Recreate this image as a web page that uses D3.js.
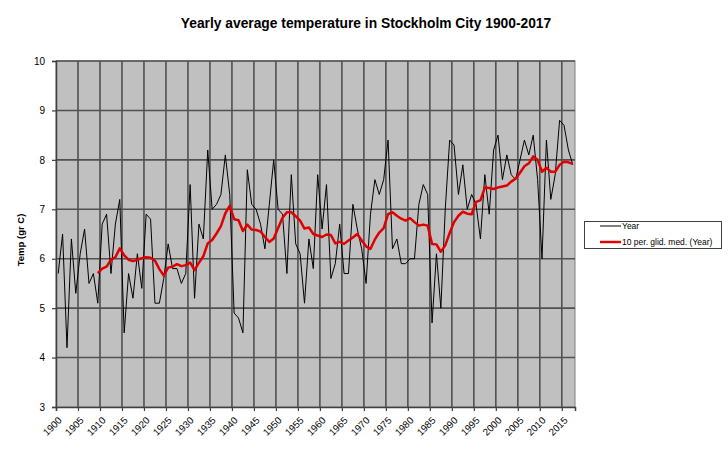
<!DOCTYPE html>
<html>
<head>
<meta charset="utf-8">
<script src="https://cdn.jsdelivr.net/npm/d3@7"></script>
<style>
  html, body { margin: 0; padding: 0; background: #fff; }
  svg { display: block; font-family: "Liberation Sans", Arial, sans-serif; }
</style>
</head>
<body>
<svg id="chart" width="728" height="453"></svg>
<script>
const firstYear = 1900;
const yearValues = [
  5.7, 6.5, 4.2, 6.4, 5.3, 6.1, 6.6, 5.5, 5.7, 5.1,
  6.7, 6.9, 5.7, 6.7, 7.2, 4.5, 5.7, 5.2, 6.1, 5.4,
  6.9, 6.8, 5.1, 5.1, 5.6, 6.3, 5.8, 5.8, 5.5, 5.7,
  7.5, 5.2, 6.7, 6.4, 8.2, 7.0, 7.1, 7.3, 8.1, 7.3,
  4.9, 4.8, 4.5, 7.8, 7.1, 7.0, 6.7, 6.2, 7.1, 8.0,
  7.0, 6.9, 5.7, 7.7, 6.3, 6.1, 5.1, 6.4, 5.8, 7.7,
  6.6, 7.5, 5.6, 5.9, 6.7, 5.7, 5.7, 7.1, 6.6, 6.2,
  5.5, 6.9, 7.6, 7.3, 7.6, 8.4, 6.2, 6.4, 5.9, 5.9,
  6.0, 6.0, 7.1, 7.5, 7.3, 4.7, 6.1, 5.0, 7.0, 8.4,
  8.3, 7.3, 7.9, 7.0, 7.3, 7.1, 6.4, 7.7, 6.9, 8.2,
  8.5, 7.6, 8.1, 7.7, 7.6, 8.0, 8.4, 8.1, 8.5, 7.6,
  6.0, 8.4, 7.2, 7.7, 8.8, 8.7, 8.2, 7.9
];
const maFirstYear = 1909;
const movingAvgValues = [
  5.71,
  5.80, 5.84, 5.98, 6.03, 6.21, 6.07, 5.98, 5.95, 5.98, 6.01,
  6.03, 6.02, 5.96, 5.79, 5.66, 5.82, 5.84, 5.89, 5.85, 5.87,
  5.92, 5.77, 5.92, 6.05, 6.31, 6.38, 6.51, 6.66, 6.92, 7.07,
  6.80, 6.78, 6.56, 6.69, 6.59, 6.58, 6.55, 6.44, 6.34, 6.41,
  6.62, 6.83, 6.94, 6.94, 6.86, 6.77, 6.61, 6.63, 6.50, 6.47,
  6.44, 6.49, 6.48, 6.31, 6.34, 6.30, 6.37, 6.43, 6.50, 6.37,
  6.25, 6.20, 6.39, 6.53, 6.62, 6.90, 6.94, 6.87, 6.81, 6.77,
  6.82, 6.74, 6.67, 6.69, 6.67, 6.30, 6.29, 6.14, 6.27, 6.52,
  6.74, 6.87, 6.95, 6.91, 6.90, 7.15, 7.18, 7.44, 7.43, 7.41,
  7.44, 7.46, 7.48, 7.56, 7.62, 7.74, 7.87, 7.93, 8.07, 8.00,
  7.76, 7.84, 7.76, 7.76, 7.90, 7.96, 7.95, 7.92
];
const xTickYears = d3.range(1900, 2016, 5);
const yTickValues = [3, 4, 5, 6, 7, 8, 9, 10];
const titleText = "Yearly average temperature in Stockholm City 1900-2017";
const yAxisTitle = "Temp (gr C)";
const seriesNames = ["Year", "10 per. glid. med. (Year)"];

const yearSeries = yearValues.map((v, i) => ({ year: firstYear + i, value: v }));
const maSeries = movingAvgValues.map((v, i) => ({ year: maFirstYear + i, value: v }));

const svg = d3.select("#chart");
const plot = { left: 56, right: 575, top: 61, bottom: 407 };

const x = d3.scaleLinear().domain([1900, 2018]).range([plot.left, plot.right]);
const y = d3.scaleLinear().domain([3, 10]).range([plot.bottom, plot.top]);
const xc = yr => x(yr + 0.5);

// title
svg.append("text")
  .attr("x", 366).attr("y", 28)
  .attr("text-anchor", "middle")
  .attr("font-weight", "bold").attr("font-size", 13.8)
  .attr("fill", "#000")
  .text(titleText);

// plot background
svg.append("rect")
  .attr("x", plot.left).attr("y", plot.top)
  .attr("width", plot.right - plot.left).attr("height", plot.bottom - plot.top)
  .attr("fill", "#c0c0c0").attr("stroke", "#808080").attr("stroke-width", 1);

// gridlines
const grid = svg.append("g").attr("stroke", "#505050").attr("stroke-width", 1.6);
grid.selectAll("line.h").data(yTickValues.filter(v => v > 3)).join("line")
  .attr("x1", plot.left).attr("x2", plot.right)
  .attr("y1", d => y(d)).attr("y2", d => y(d));
grid.selectAll("line.v").data(xTickYears.filter(v => v > 1900)).join("line")
  .attr("class", "v")
  .attr("y1", plot.top).attr("y2", plot.bottom)
  .attr("x1", d => x(d)).attr("x2", d => x(d));

// axes
const yAxis = d3.axisLeft(y).tickValues(yTickValues).tickSize(4).tickPadding(7).tickFormat(d3.format("d"));
const yg = svg.append("g").attr("transform", `translate(${plot.left},0)`).call(yAxis);
yg.select(".domain").attr("stroke", "#404040").attr("stroke-width", 1.5);
yg.selectAll(".tick line").attr("stroke", "#404040").attr("stroke-width", 1.2);
yg.selectAll(".tick text").attr("font-size", 10).attr("fill", "#000")
  .attr("font-family", "'Liberation Sans', Arial, sans-serif");

const xAxis = d3.axisBottom(x).tickValues(xTickYears).tickSize(4).tickFormat(d3.format("d"));
const xg = svg.append("g").attr("transform", `translate(0,${plot.bottom})`).call(xAxis);
xg.select(".domain").attr("stroke", "#404040").attr("stroke-width", 1.5);
xg.selectAll(".tick line").attr("stroke", "#404040").attr("stroke-width", 1.2);
xg.selectAll(".tick text")
  .attr("font-size", 9.8).attr("fill", "#000")
  .attr("font-family", "'Liberation Sans', Arial, sans-serif")
  .attr("text-anchor", "end")
  .attr("dy", null)
  .attr("transform", "translate(1,9) rotate(-45)");

// y axis title
svg.append("text")
  .attr("transform", `translate(24,240) rotate(-90)`)
  .attr("text-anchor", "middle")
  .attr("font-weight", "bold").attr("font-size", 9.5)
  .text(yAxisTitle);

// lines
const line = d3.line().x(d => xc(d.year)).y(d => y(d.value));
svg.append("path").datum(yearSeries)
  .attr("fill", "none").attr("stroke", "#000").attr("stroke-width", 1)
  .attr("stroke-linejoin", "round").attr("d", line);
svg.append("path").datum(maSeries)
  .attr("fill", "none").attr("stroke", "#e00000").attr("stroke-width", 2.5)
  .attr("stroke-linejoin", "round").attr("d", line);

// legend
const lg = svg.append("g");
lg.append("rect").attr("x", 584.5).attr("y", 221.5).attr("width", 137).attr("height", 27)
  .attr("fill", "#fff").attr("stroke", "#404040").attr("stroke-width", 1);
const legendItems = [
  { name: seriesNames[0], color: "#000", w: 1, yy: 226 },
  { name: seriesNames[1], color: "#e00000", w: 2.5, yy: 242 }
];
legendItems.forEach(it => {
  lg.append("line").attr("x1", 600).attr("x2", 621).attr("y1", it.yy).attr("y2", it.yy)
    .attr("stroke", it.color).attr("stroke-width", it.w);
  lg.append("text").attr("x", 622).attr("y", it.yy + 3).attr("font-size", 8.5)
    .attr("fill", "#000").text(it.name);
});
</script>
</body>
</html>
